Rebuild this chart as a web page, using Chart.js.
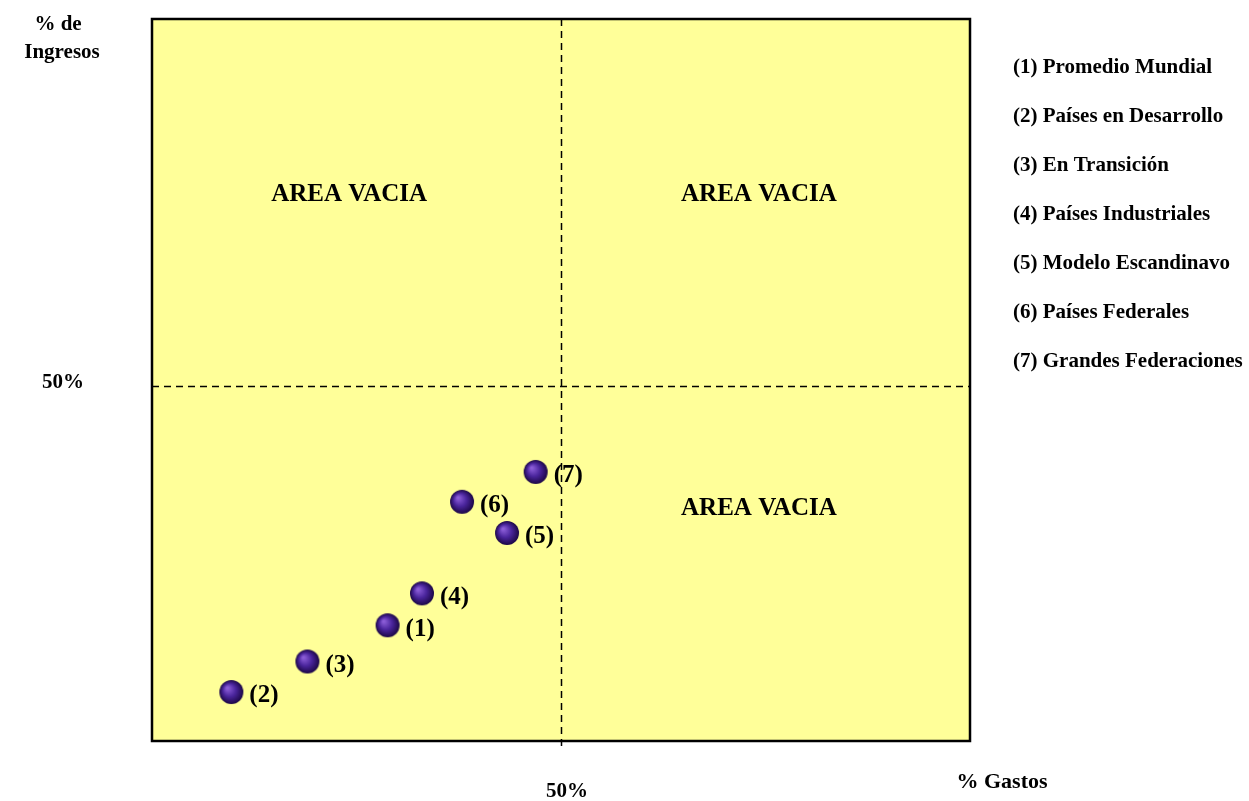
<!DOCTYPE html>
<html>
<head>
<meta charset="utf-8">
<script src="https://cdn.jsdelivr.net/npm/chart.js@4"></script>
<style>
  html, body { margin: 0; padding: 0; background: #fff; }
  #wrap { width: 1249px; height: 801px; }
</style>
</head>
<body>
<div id="wrap"><canvas id="myChartScatter"></canvas></div>
<script>
// datos del grafico
const labels = ['(1)', '(2)', '(3)', '(4)', '(5)', '(6)', '(7)'];
const gastos = [28.8, 9.7, 19.0, 33.0, 43.4, 37.9, 46.9];
const ingresos = [16.3, 6.9, 11.2, 20.8, 29.3, 33.7, 37.9];
const legendNames = [
    '(1) Promedio Mundial',
    '(2) Países en Desarrollo',
    '(3) En Transición',
    '(4) Países Industriales',
    '(5) Modelo Escandinavo',
    '(6) Países Federales',
    '(7) Grandes Federaciones'
];
const areaLabels = ['AREA VACIA', 'AREA VACIA', 'AREA VACIA'];
const areaX = [24.1, 74.2, 74.2];
const areaY = [77, 77, 32.8];

const FONT = "'Liberation Serif', 'Times New Roman', serif";

function makeBall(r) {
    const c = document.createElement('canvas');
    c.width = c.height = r * 2 + 2;
    const g = c.getContext('2d');
    const grad = g.createRadialGradient(r - 3, r - 3, 1, r + 1, r + 1, r);
    grad.addColorStop(0, '#8a5cd6');
    grad.addColorStop(0.5, '#4a259c');
    grad.addColorStop(1, '#1c0746');
    g.fillStyle = grad;
    g.beginPath();
    g.arc(r + 1, r + 1, r, 0, Math.PI * 2);
    g.fill();
    return c;
}

const quadPlugin = {
    id: 'quad',
    beforeDatasetsDraw(chart) {
        const { ctx, chartArea: a, scales: { x, y } } = chart;
        ctx.save();
        ctx.fillStyle = '#ffff99';
        ctx.fillRect(a.left, a.top, a.right - a.left, a.bottom - a.top);

        // lineas de 50%
        ctx.strokeStyle = '#000';
        ctx.lineWidth = 1.5;
        ctx.setLineDash([7, 5]);
        const mx = Math.round(x.getPixelForValue(50)) + 0.5;
        const my = Math.round(y.getPixelForValue(50)) + 0.5;
        ctx.beginPath();
        ctx.moveTo(mx, a.top); ctx.lineTo(mx, a.bottom + 6);
        ctx.moveTo(a.left, my); ctx.lineTo(a.right, my);
        ctx.stroke();
        ctx.setLineDash([]);

        ctx.lineWidth = 2.5;
        ctx.strokeRect(a.left, a.top, a.right - a.left, a.bottom - a.top);

        ctx.fillStyle = '#000';
        ctx.textAlign = 'center';
        ctx.textBaseline = 'middle';
        ctx.font = 'bold 25px ' + FONT;
        areaLabels.forEach((t, i) => {
            ctx.fillText(t, x.getPixelForValue(areaX[i]), y.getPixelForValue(areaY[i]));
        });

        // titulos de ejes
        ctx.font = 'bold 21px ' + FONT;
        ctx.fillText('% de', 58, 25);
        ctx.fillText('Ingresos', 62, 53);
        ctx.fillText('50%', 63, y.getPixelForValue(50) - 3);
        ctx.fillText('50%', x.getPixelForValue(50) + 6, 792);
        ctx.font = 'bold 22px ' + FONT;
        ctx.fillText('% Gastos', 1002, 782);

        // leyenda
        ctx.textAlign = 'left';
        ctx.font = 'bold 21px ' + FONT;
        legendNames.forEach((t, i) => {
            ctx.fillText(t, 1013, 68 + i * 49);
        });
        ctx.restore();
    },
    afterDatasetsDraw(chart) {
        const { ctx } = chart;
        const meta = chart.getDatasetMeta(0);
        ctx.save();
        ctx.fillStyle = '#000';
        ctx.font = 'bold 25px ' + FONT;
        ctx.textAlign = 'left';
        ctx.textBaseline = 'middle';
        meta.data.forEach((pt, i) => {
            ctx.fillText(labels[i], pt.x + 18, pt.y + 4);
        });
        ctx.restore();
    }
};

function setupChartScatter(canvasId) {
    const ctx = document.getElementById(canvasId)?.getContext('2d');
    if (!ctx) return;

    new Chart(ctx, {
        type: 'scatter',
        data: {
            datasets: [{
                label: 'Gastos vs Ingresos',
                data: gastos.map((g, i) => ({ x: g, y: ingresos[i] })),
                pointStyle: makeBall(12),
                pointRadius: 12
            }]
        },
        options: {
            responsive: true,
            maintainAspectRatio: false,
            animation: false,
            layout: { padding: { left: 152, top: 19, right: 279, bottom: 60 } },
            scales: {
                x: { type: 'linear', min: 0, max: 100, display: false },
                y: { type: 'linear', min: 0, max: 101.7, display: false }
            },
            plugins: {
                legend: { display: false },
                tooltip: { enabled: false }
            }
        },
        plugins: [quadPlugin]
    });
}

setupChartScatter('myChartScatter');
</script>
</body>
</html>
